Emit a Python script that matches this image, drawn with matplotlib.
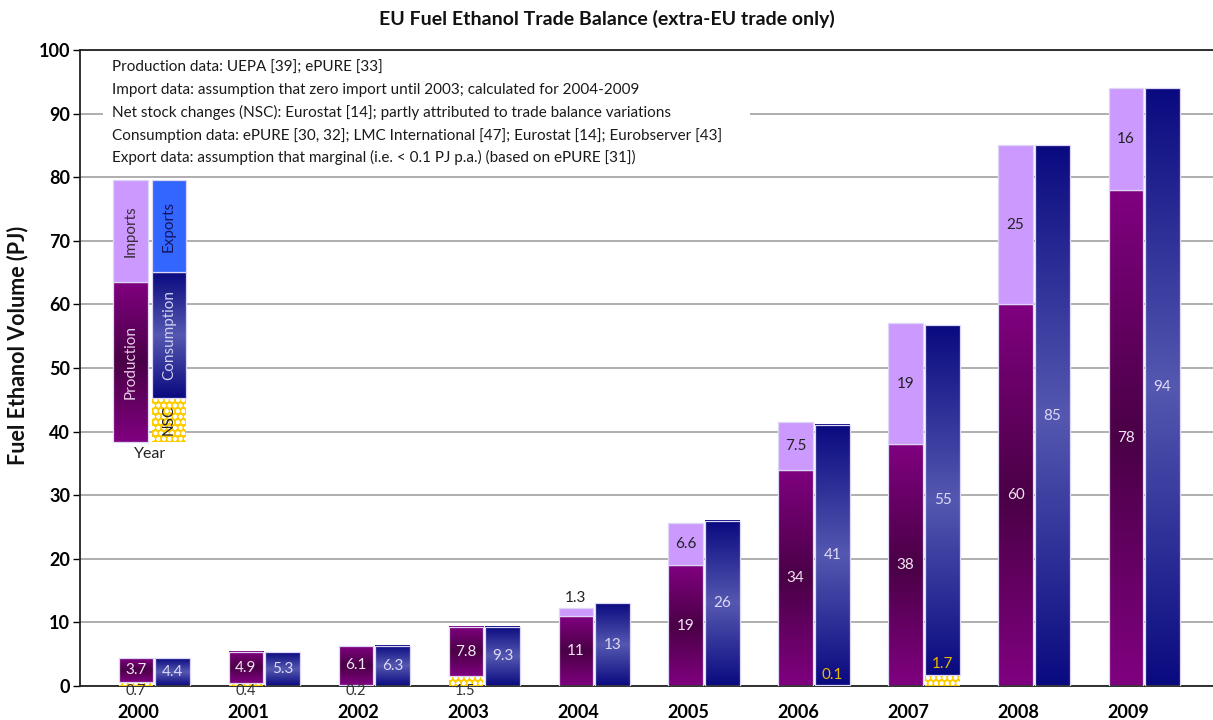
import numpy as np
import matplotlib
matplotlib.use("Agg")
import matplotlib.pyplot as plt
from matplotlib.colors import LinearSegmentedColormap
from matplotlib.patches import Rectangle

plt.rcParams['font.family'] = ['Lato', 'DejaVu Sans']
plt.rcParams['hatch.linewidth'] = 1.1

years = ['2000', '2001', '2002', '2003', '2004', '2005', '2006', '2007', '2008', '2009']
production = [3.7, 4.9, 6.1, 7.8, 11, 19, 34, 38, 60, 78]
imports = [0, 0, 0, 0, 1.3, 6.6, 7.5, 19, 25, 16]
nsc_supply = [0.7, 0.4, 0.2, 1.5, 0, 0, 0, 0, 0, 0]
consumption = [4.4, 5.3, 6.3, 9.3, 13, 26, 41, 55, 85, 94]
nsc_use = [0, 0, 0, 0, 0, 0, 0.1, 1.7, 0, 0]

# key bars drawn inside the plot (values in PJ)
key_base = 38.3
key_production = 25.2
key_imports = 16.0
key_nsc = 7.0
key_consumption = 19.8
key_exports = 14.4

notes = [
    "Production data: UEPA [39]; ePURE [33]",
    "Import data: assumption that zero import until 2003; calculated for 2004-2009",
    "Net stock changes (NSC): Eurostat [14]; partly attributed to trade balance variations",
    "Consumption data: ePURE [30, 32]; LMC International [47]; Eurostat [14]; Eurobserver [43]",
    "Export data: assumption that marginal (i.e. < 0.1 PJ p.a.) (based on ePURE [31])",
]

purple_cmap = LinearSegmentedColormap.from_list('prod', ['#800080', '#4a0046', '#800080'])
blue_cmap = LinearSegmentedColormap.from_list('cons', ['#0a0a80', '#5558b0', '#0a0a80'])
grad = np.linspace(0, 1, 256).reshape(-1, 1)

W = 0.31
OFF = 0.168
EDGE = '#ddd6f6'


def gradient_bar(ax, xc, y0, h, cmap):
    if h <= 0:
        return
    ax.imshow(grad, extent=(xc - W / 2, xc + W / 2, y0, y0 + h), cmap=cmap,
              aspect='auto', interpolation='bicubic', zorder=2)
    ax.add_patch(Rectangle((xc - W / 2, y0), W, h, fill=False, edgecolor=EDGE,
                           lw=0.9, zorder=3))


def flat_bar(ax, xc, y0, h, color):
    if h <= 0:
        return
    ax.add_patch(Rectangle((xc - W / 2, y0), W, h, facecolor=color, edgecolor=EDGE,
                           lw=0.9, zorder=3))


def nsc_bar(ax, xc, y0, h):
    if h <= 0:
        return
    ax.add_patch(Rectangle((xc - W / 2, y0), W, h, facecolor='#ffcc00', edgecolor='white',
                           hatch='ooo', lw=0, zorder=3))


fig = plt.figure(figsize=(12.13, 7.2), dpi=100)
ax = fig.add_axes([80 / 1213, 1 - 686 / 720, 1 - 80 / 1213, 636 / 720])

x = np.arange(len(years))
for i in x:
    xl = i - OFF
    xr = i + OFF
    # supply side: NSC, production, imports
    nsc_bar(ax, xl, 0, nsc_supply[i])
    gradient_bar(ax, xl, nsc_supply[i], production[i], purple_cmap)
    top = nsc_supply[i] + production[i]
    flat_bar(ax, xl, top, imports[i], '#cc99ff')
    # use side: NSC, consumption
    nsc_bar(ax, xr, 0, nsc_use[i])
    gradient_bar(ax, xr, nsc_use[i], consumption[i], blue_cmap)

    ax.text(xl, nsc_supply[i] + production[i] / 2, f"{production[i]:g}", ha='center',
            va='center', color='#f2e4f2', fontsize=11, zorder=5)
    ax.text(xr, nsc_use[i] + consumption[i] / 2, f"{consumption[i]:g}", ha='center',
            va='center', color='#dcdaf5', fontsize=11, zorder=5)
    if imports[i] > 2:
        ax.text(xl, top + imports[i] / 2, f"{imports[i]:g}", ha='center', va='center',
                color='#222222', fontsize=11, zorder=5)
    elif imports[i] > 0:
        ax.text(xl, top + imports[i] + 0.4, f"{imports[i]:g}", ha='center', va='bottom',
                color='#222222', fontsize=11, zorder=5)
    if nsc_supply[i] > 0:
        ax.text(xl, 0.25, f"{nsc_supply[i]:g}", ha='center', va='top',
                color='#333333', fontsize=10.5, zorder=5, clip_on=False)
    if nsc_use[i] > 0:
        ax.text(xr, nsc_use[i] + 1.7, f"{nsc_use[i]:g}", ha='center', va='center',
                color='#e8b800', fontsize=11, zorder=5)

# key bars
kl = -0.214
kr = 0.136
gradient_bar(ax, kl, key_base, key_production, purple_cmap)
flat_bar(ax, kl, key_base + key_production, key_imports, '#cc99ff')
nsc_bar(ax, kr, key_base, key_nsc)
gradient_bar(ax, kr, key_base + key_nsc, key_consumption, blue_cmap)
flat_bar(ax, kr, key_base + key_nsc + key_consumption, key_exports, '#3366ff')
ax.text(kl, key_base + key_production / 2, "Production", rotation=90, ha='center',
        va='center', color='#e8cce8', fontsize=11, zorder=5)
ax.text(kl, key_base + key_production + key_imports / 2, "Imports", rotation=90,
        ha='center', va='center', color='#3a2a3a', fontsize=11, zorder=5)
ax.text(kr, key_base + key_nsc / 2, "NSC", rotation=90, ha='center', va='center',
        color='#222222', fontsize=11, zorder=5)
ax.text(kr, key_base + key_nsc + key_consumption / 2, "Consumption", rotation=90,
        ha='center', va='center', color='#d0d0f0', fontsize=11, zorder=5)
ax.text(kr, key_base + key_nsc + key_consumption + key_exports / 2, "Exports",
        rotation=90, ha='center', va='center', color='#141460', fontsize=11, zorder=5)
ax.text((kl + kr) / 2, key_base - 0.8, "Year", ha='center', va='top',
        color='#222222', fontsize=11.5, zorder=5)

# notes box
ax.add_patch(Rectangle((0.020, 0.808), 0.571, 0.184, transform=ax.transAxes,
                       facecolor='white', edgecolor='none', zorder=1.5))
for k, line in enumerate(notes):
    ax.text(0.028, 0.9725 - k * 0.0355, line, transform=ax.transAxes, ha='left',
            va='center', fontsize=11, color='#1a1a1a', zorder=5)

ax.set_xlim(-0.673, 9.627)
ax.set_ylim(0, 100)
ax.set_yticks(range(0, 101, 10))
ax.set_xticks(x - 0.14)
ax.set_xticklabels(years, fontsize=13, fontweight='bold')
ax.tick_params(axis='x', length=0, pad=13)
ax.tick_params(axis='y', length=5, width=1, labelsize=13, pad=2)
for lab in ax.get_yticklabels():
    lab.set_fontweight('bold')
ax.yaxis.grid(True, color='#a8a8a8', lw=1.3, zorder=0.5)
ax.set_axisbelow(True)
for s in ['left', 'bottom', 'top']:
    ax.spines[s].set_color('#222222')
    ax.spines[s].set_linewidth(1.3)
ax.spines['right'].set_visible(False)

fig.text(18 / 1213, 1 - 345 / 720, "Fuel Ethanol Volume (PJ)", rotation=90, ha='center',
         va='center', fontsize=15.5, fontweight='bold', color='#111111')
fig.text(607 / 1213, 1 - 19 / 720, "EU Fuel Ethanol Trade Balance (extra-EU trade only)",
         ha='center', va='center', fontsize=14, fontweight='bold', color='#111111')

fig.savefig('out.png', dpi=100)
